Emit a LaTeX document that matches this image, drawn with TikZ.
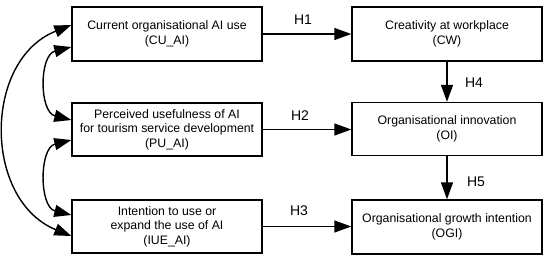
\documentclass[tikz,border=0pt]{standalone}
\usepackage{fontspec}
\setmainfont{Liberation Sans}
\usetikzlibrary{arrows.meta}
\begin{document}
\begin{tikzpicture}[x=1pt,y=-1pt,
  box/.style={draw,line width=1.4pt,minimum width=190pt,inner sep=0pt,align=center,
    font=\fontsize{12.3}{14.5}\selectfont},
  conn/.style={line width=1.4pt,-{Triangle[length=17pt,width=12pt]}},
  conn2/.style={line width=1.4pt,{Triangle[length=17pt,width=12pt]}-{Triangle[length=17pt,width=12pt]}},
  hlab/.style={font=\fontsize{14}{16}\selectfont,inner sep=0pt}]
\useasboundingbox (0,0) rectangle (550,263);
\node[box,minimum height=54pt] (cu) at (167,34) {Current organisational AI use\\(CU\_AI)};
\node[box,minimum height=53pt] (pu) at (167,129.5) {Perceived usefulness of AI\\for tourism service development\\(PU\_AI)};
\node[box,minimum height=53pt] (iue) at (167,226.5) {Intention to use or\\expand the use of AI\\(IUE\_AI)};
\node[box,minimum height=54pt] (cw) at (447,34) {Creativity at workplace\\(CW)};
\node[box,minimum height=53pt] (oi) at (447,129) {Organisational innovation\\(OI)};
\node[box,minimum height=54pt] (ogi) at (447,227) {Organisational growth intention\\(OGI)};
\draw[conn] (cu.east) -- (cw.west);
\draw[conn] (pu.east) -- (pu.east -| oi.west);
\draw[conn] (iue.east) -- (iue.east -| ogi.west);
\draw[conn] (cw.south) -- (oi.north);
\draw[conn] (oi.south) -- (ogi.north);
\node[hlab] (h1) at (303,20) {H1};
\node[hlab] (h2) at (300,116) {H2};
\node[hlab] (h3) at (299,211) {H3};
\node[hlab] (h4) at (474,83) {H4};
\node[hlab] (h5) at (476,182) {H5};
\draw[conn2] ([yshift=9pt]cu.west) .. controls (-17,60) and (-17,200) .. ([yshift=-9.5pt]iue.west);
\draw[conn2] ([yshift=-13pt]cu.west) .. controls (39,55) and (39,112) .. ([yshift=9.5pt]pu.west);
\draw[conn2] ([yshift=-10.5pt]pu.west) .. controls (39,148) and (39,207) .. ([yshift=11.5pt]iue.west);
\end{tikzpicture}
\end{document}
